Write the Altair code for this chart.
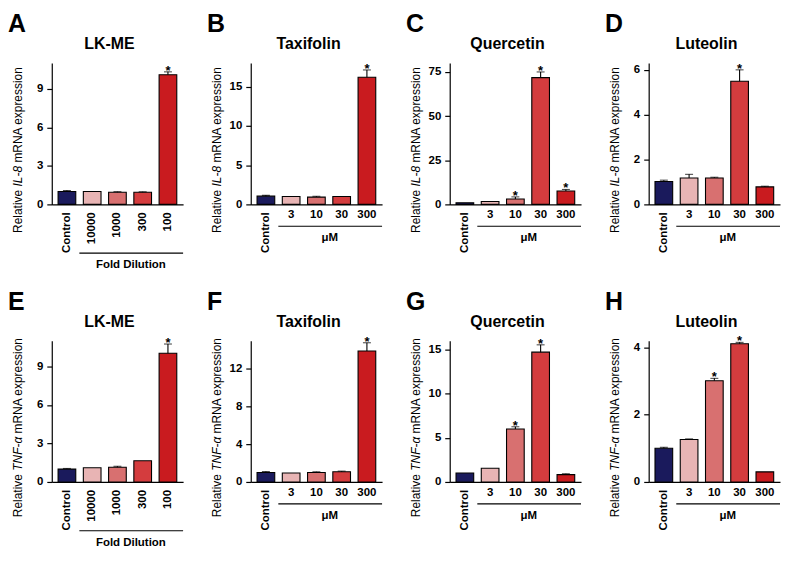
import altair as alt
import pandas as pd

FONT = "Liberation Sans"
W, H = 132, 142
PAD_INNER, PAD_OUTER = 0.3, 0.25

COLORS = ["#1a1a5c", "#e8b4b4", "#d87070", "#d43c3e", "#c91b1f"]
COLOR_KEYS = ["c0", "c1", "c2", "c3", "c4"]

letters = ["A", "B", "C", "D", "E", "F", "G", "H"]
titles = ["LK-ME", "Taxifolin", "Quercetin", "Luteolin"] * 2
genes = ["IL-8"] * 4 + ["TNF-α"] * 4
dilution_cats = ["Control", "10000", "1000", "300", "100"]
conc_cats = ["Control", "3", "10", "30", "300"]
category_sets = [dilution_cats, conc_cats, conc_cats, conc_cats] * 2
group_labels = ["Fold Dilution", "μM", "μM", "μM"] * 2

# relative expression (mean) per panel
vals_A = [1.00, 1.00, 0.94, 0.94, 10.10]
vals_B = [1.05, 1.00, 0.93, 1.00, 16.20]
vals_C = [0.90, 1.60, 3.05, 71.8, 7.55]
vals_D = [1.02, 1.18, 1.18, 5.49, 0.78]
vals_E = [1.00, 1.10, 1.15, 1.65, 10.02]
vals_F = [1.01, 0.95, 1.01, 1.08, 13.90]
vals_G = [1.01, 1.55, 6.00, 14.70, 0.83]
vals_H = [1.00, 1.26, 3.01, 4.11, 0.30]

# error (upper whisker length)
errs_A = [0.08, 0.00, 0.05, 0.04, 0.22]
errs_B = [0.10, 0.00, 0.10, 0.00, 0.93]
errs_C = [0.00, 0.00, 1.20, 3.20, 0.90]
errs_D = [0.06, 0.16, 0.03, 0.51, 0.03]
errs_E = [0.05, 0.00, 0.07, 0.00, 0.72]
errs_F = [0.10, 0.00, 0.07, 0.07, 0.88]
errs_G = [0.00, 0.00, 0.25, 0.83, 0.10]
errs_H = [0.03, 0.02, 0.07, 0.04, 0.00]

# significance markers
sig_A = [False, False, False, False, True]
sig_B = [False, False, False, False, True]
sig_C = [False, False, True, True, True]
sig_D = [False, False, False, True, False]
sig_E = [False, False, False, False, True]
sig_F = [False, False, False, False, True]
sig_G = [False, False, True, True, False]
sig_H = [False, False, True, True, False]

y_max = [11, 18, 80, 6.3, 11, 15, 16, 4.2]
y_ticks = [[0, 3, 6, 9], [0, 5, 10, 15], [0, 25, 50, 75], [0, 2, 4, 6],
           [0, 3, 6, 9], [0, 4, 8, 12], [0, 5, 10, 15], [0, 2, 4]]

all_vals = [vals_A, vals_B, vals_C, vals_D, vals_E, vals_F, vals_G, vals_H]
all_errs = [errs_A, errs_B, errs_C, errs_D, errs_E, errs_F, errs_G, errs_H]
all_sigs = [sig_A, sig_B, sig_C, sig_D, sig_E, sig_F, sig_G, sig_H]

# Arial / Liberation Sans advance widths (per 1000 em) for the y title pieces
CW = {"R": 722, "e": 556, "l": 222, "a": 556, "t": 278, "i": 222, "v": 500, " ": 278,
      "I": 278, "L": 556, "-": 333, "8": 556, "m": 833, "N": 722, "A": 667, "x": 500,
      "p": 556, "r": 333, "s": 500, "o": 556, "n": 556, "T": 611, "F": 611, "α": 570}


def tw(s, size):
    return sum(CW.get(c, 556) for c in s) * size / 1000.0


TXT = dict(font=FONT, color="black")


def panel(i):
    cats = category_sets[i]
    vals, errs, sigs = all_vals[i], all_errs[i], all_sigs[i]
    label = group_labels[i]
    rotate_all = label == "Fold Dilution"
    df = pd.DataFrame({
        "cat": cats, "val": vals, "err": errs,
        "top": [v + e for v, e in zip(vals, errs)],
        "ck": COLOR_KEYS, "sig": sigs,
        "rot": [True if (k == 0 or rotate_all) else False for k in range(len(cats))],
    })
    xs = alt.Scale(domain=cats, paddingInner=PAD_INNER, paddingOuter=PAD_OUTER)
    ys = alt.Scale(domain=[0, y_max[i]], nice=False, zero=True)
    xaxis = alt.Axis(labels=False, ticks=False, title=None, domainColor="black",
                     domainWidth=1.2)
    yaxis = alt.Axis(values=y_ticks[i], title=None, grid=False, domainColor="black",
                     domainWidth=1.2, tickColor="black", tickWidth=1.2, tickSize=5,
                     labelPadding=4, labelFont=FONT, labelFontSize=11.5,
                     labelFontWeight="bold", labelColor="black")

    def X(field="cat", **kw):
        return alt.X(f"{field}:N", scale=xs, axis=xaxis, **kw)

    def Y(field):
        return alt.Y(f"{field}:Q", scale=ys, axis=yaxis)

    base = alt.Chart(df)
    bars = base.mark_bar(stroke="black", strokeWidth=1.1).encode(
        x=X(), y=Y("val"),
        color=alt.Color("ck:N", scale=alt.Scale(domain=COLOR_KEYS, range=COLORS), legend=None),
    )
    err_df = base.transform_filter("datum.err > 0")
    err_rule = err_df.mark_rule(color="black", strokeWidth=1.1).encode(
        x=X(), y=Y("val"), y2=alt.Y2("top:Q"))
    err_cap = err_df.mark_tick(color="black", thickness=1.1, size=8, orient="horizontal").encode(
        x=X(), y=Y("top"))
    stars = base.transform_filter("datum.sig").mark_text(
        text="*", fontSize=13, fontWeight="bold", baseline="alphabetic", dy=3, **TXT
    ).encode(x=X(), y=Y("top"))

    rot_labels = base.transform_filter("datum.rot").mark_text(
        angle=270, align="right", baseline="middle", fontSize=11.5, fontWeight="bold", **TXT
    ).encode(x=X(), y=alt.value(H + 8), text="cat:N")
    flat_labels = base.transform_filter("!datum.rot").mark_text(
        align="center", baseline="middle", fontSize=11.5, fontWeight="bold", **TXT
    ).encode(x=X(), y=alt.value(H + 11), text="cat:N")

    line_y = H + 49 if rotate_all else H + 22
    text_y = H + 61 if rotate_all else H + 34
    bracket = alt.Chart(pd.DataFrame({"cat": [cats[1]]})).mark_rule(
        color="black", strokeWidth=1.1, xOffset=-4
    ).encode(x=X(bandPosition=0), x2=alt.value(W), y=alt.value(line_y))
    group_text = alt.Chart(pd.DataFrame({"cat": [cats[3]], "t": [label]})).mark_text(
        align="center", baseline="middle", fontSize=11.5, fontWeight="bold", dx=-3, **TXT
    ).encode(x=X(bandPosition=0), y=alt.value(text_y), text="t:N")

    title = alt.Chart(pd.DataFrame({"t": [titles[i]]})).mark_text(
        align="center", baseline="middle", fontSize=16, fontWeight="bold", **TXT
    ).encode(x=alt.value(W * 0.44), y=alt.value(-19), text="t:N")
    letter = alt.Chart(pd.DataFrame({"t": [letters[i]]})).mark_text(
        align="left", baseline="top", fontSize=25, fontWeight="bold", **TXT
    ).encode(x=alt.value(-44), y=alt.value(-51), text="t:N")

    # y-axis title with italic gene name, built from three pieces
    fs = 12
    p1, p2, p3 = "Relative", genes[i], "mRNA expression"
    w1 = tw(p1 + " ", fs)
    w2 = tw(p2 + " ", fs)
    total = w1 + w2 + tw(p3, fs)
    yc = H / 2 + 16
    yb = yc + total / 2
    pieces = []
    for txt, off, style in [(p1, 0, "normal"), (p2, w1, "italic"), (p3, w1 + w2, "normal")]:
        pieces.append(
            alt.Chart(pd.DataFrame({"t": [txt]})).mark_text(
                angle=270, align="left", baseline="alphabetic", fontSize=fs,
                fontStyle=style, **TXT
            ).encode(x=alt.value(-30), y=alt.value(yb - off), text="t:N")
        )

    return alt.layer(bars, err_rule, err_cap, stars, rot_labels, flat_labels,
                     bracket, group_text, title, letter, *pieces).properties(
        width=W, height=H)


panels = [panel(i) for i in range(8)]
row1 = alt.hconcat(*panels[:4], spacing=23)
row2 = alt.hconcat(*panels[4:], spacing=23)
chart = alt.vconcat(row1, row2, spacing=19).properties(
    padding={"top": 3, "left": 0, "right": 0, "bottom": 0}
).configure(font=FONT).configure_view(stroke=None)

chart.save("out.html", embed_options={"renderer": "svg", "actions": False})
